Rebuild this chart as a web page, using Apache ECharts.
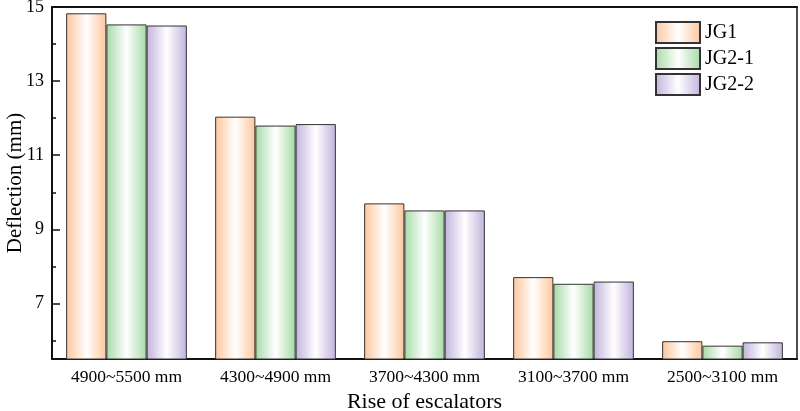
<!DOCTYPE html>
<html>
<head>
<meta charset="utf-8">
<title>Deflection</title>
<script src="https://cdn.jsdelivr.net/npm/echarts@6/dist/echarts.min.js"></script>
<style>
    html, body { margin: 0; padding: 0; background: #fff; }
    #chart { width: 800px; height: 411px; }
</style>
</head>
<body>
<div id="chart"></div>
<script>
    // categories on the x axis
    let categories = ['4900~5500 mm', '4300~4900 mm', '3700~4300 mm', '3100~3700 mm', '2500~3100 mm'];
    // deflection (mm)
    let jg1 = [14.83, 12.04, 9.70, 7.71, 5.98];
    let jg21 = [14.53, 11.80, 9.51, 7.53, 5.86];
    let jg22 = [14.50, 11.84, 9.51, 7.59, 5.95];
    // y axis ticks
    let majorTicks = [7, 9, 11, 13, 15];
    let minorTicks = [6, 8, 10, 12, 14];

    const font = 'Liberation Serif';

    function grad(c) {
        return {
            type: 'linear', x: 0, y: 0, x2: 1, y2: 0,
            colorStops: [
                {offset: 0, color: c},
                {offset: 0.5, color: '#ffffff'},
                {offset: 1, color: c}
            ]
        };
    }

    function barSeries(name, data, c) {
        return {
            name: name,
            type: 'bar',
            data: data,
            barGap: '0%',
            barCategoryGap: '19%',
            itemStyle: {
                color: grad(c),
                borderColor: '#333',
                borderWidth: 1
            }
        };
    }

    let chart = echarts.init(document.getElementById('chart'));
    chart.setOption({
        animation: false,
        grid: { left: 52, top: 7, right: 3, bottom: 52, outerBoundsMode: 'none', containLabel: false },
        legend: {
            orient: 'vertical',
            left: 650,
            top: 16,
            icon: 'rect',
            itemWidth: 44,
            itemHeight: 21,
            itemGap: 3,
            textStyle: { fontFamily: font, fontSize: 20, color: '#000' },
            data: ['JG1', 'JG2-1', 'JG2-2']
        },
        xAxis: [
            {
                type: 'category',
                data: categories,
                position: 'bottom',
                name: 'Rise of escalators',
                nameLocation: 'middle',
                nameGap: 27,
                nameTextStyle: { fontFamily: font, fontSize: 22, color: '#000' },
                axisLine: { lineStyle: { color: '#111', width: 2 } },
                axisTick: { inside: true, alignWithLabel: true, length: 7, lineStyle: { color: '#111', width: 2 } },
                axisLabel: { fontFamily: font, fontSize: 17.5, color: '#000', margin: 9 }
            },
            {
                type: 'category',
                data: categories,
                position: 'top',
                axisLine: { lineStyle: { color: '#111', width: 2 } },
                axisTick: { show: false },
                axisLabel: { show: false }
            }
        ],
        yAxis: [
            {
                type: 'value',
                min: 5.5,
                max: 15,
                position: 'left',
                name: 'Deflection (mm)',
                nameLocation: 'middle',
                nameGap: 26,
                nameMoveOverlap: false,
                nameTextStyle: { fontFamily: font, fontSize: 21, color: '#000' },
                axisLine: { show: true, lineStyle: { color: '#111', width: 2 } },
                axisTick: { show: true, inside: true, length: 8, customValues: majorTicks, lineStyle: { color: '#111', width: 1.5 } },
                axisLabel: { fontFamily: font, fontSize: 18, color: '#000', margin: 8, customValues: majorTicks },
                splitLine: { show: false }
            },
            {
                type: 'value',
                min: 5.5,
                max: 15,
                position: 'left',
                axisLine: { show: false },
                axisTick: { show: true, inside: true, length: 4, customValues: minorTicks, lineStyle: { color: '#111', width: 1.5 } },
                axisLabel: { show: false },
                splitLine: { show: false }
            },
            {
                type: 'value',
                min: 5.5,
                max: 15,
                position: 'right',
                axisLine: { show: true, lineStyle: { color: '#111', width: 1.5 } },
                axisTick: { show: false },
                axisLabel: { show: false },
                splitLine: { show: false }
            }
        ],
        series: [
            barSeries('JG1', jg1, '#fdc69c'),
            barSeries('JG2-1', jg21, '#a6daa6'),
            barSeries('JG2-2', jg22, '#c1b3dc')
        ]
    });
</script>
</body>
</html>
